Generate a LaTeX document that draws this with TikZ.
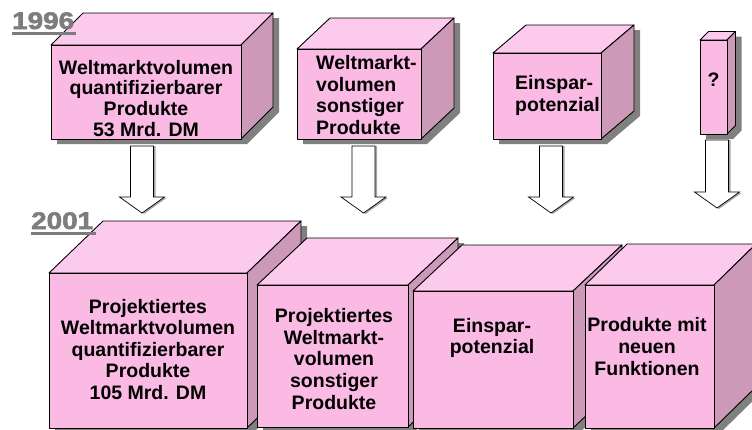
\documentclass[tikz,border=0pt]{standalone}
\usepackage{fontspec}
\setmainfont{Liberation Sans}
\newfontfamily\yearfont[FakeBold=2.2]{Liberation Sans Bold}
\definecolor{cfront}{RGB}{251,186,228}
\definecolor{ctop}{RGB}{252,202,236}
\definecolor{cside}{RGB}{204,153,185}
\definecolor{cshadow}{RGB}{128,128,128}
\definecolor{cyear}{RGB}{125,125,125}
\tikzset{
  cubeedge/.style={draw=black, line width=0.9pt, line join=round},
  frontface/.style={cubeedge, fill=cfront, rectangle, inner sep=0pt, outer sep=0pt, anchor=north west},
  boxtext/.style={font=\bfseries\fontsize{19.5}{21.5}\selectfont, inner sep=0pt, anchor=north, align=center},
  boxtextl/.style={font=\bfseries\fontsize{19.5}{21.8}\selectfont, inner sep=0pt, anchor=north west, align=left},
  yearlabel/.style={font=\yearfont\fontsize{24}{24}\selectfont, text=cyear, inner sep=0pt, anchor=base west},
  yearline/.style={draw=cyear, line width=2.4pt},
  arrowbody/.style={fill=white, draw=black, line width=0.7pt, line join=miter},
  arrowshadow/.style={fill=cshadow!70},
}
% name, x, y, w, h, dx, dy   (pixel coordinates, y downwards, front top-left corner)
\newcommand\pinkcube[7]{%
  \fill[cshadow] ({#2+6},{#3+#5+5}) -- ({#2+6},{#3+5}) -- ({#2+#6+6},{#3-#7+5}) --
     ({#2+#4+#6+6},{#3-#7+5}) -- ({#2+#4+#6+6},{#3+#5-#7+5}) -- ({#2+#4+6},{#3+#5+5}) -- cycle;
  \path[cubeedge, fill=ctop] (#2,#3) -- ({#2+#6},{#3-#7}) -- ({#2+#4+#6},{#3-#7}) -- ({#2+#4},#3) -- cycle;
  \path[cubeedge, fill=cside] ({#2+#4},#3) -- ({#2+#4+#6},{#3-#7}) -- ({#2+#4+#6},{#3+#5-#7}) -- ({#2+#4},{#3+#5}) -- cycle;
  \node[frontface, minimum width=#4pt, minimum height=#5pt] (#1) at (#2,#3) {};
}
% name, centre x, top y, shaft bottom y, tip y
\newcommand\blockarrowdown[5]{%
  \coordinate (#1) at (#2,#3);
  \fill[arrowshadow] ({#2-11.5+2},{#3}) -- ({#2+11.5+2},{#3}) -- ({#2+11.5+2},{#4+1}) -- ({#2+22.5+2},{#4+1}) --
     ({#2+2},{#5+1}) -- ({#2-22.5+2},{#4+1}) -- ({#2-11.5+2},{#4+1}) -- cycle;
  \path[arrowbody] ({#2-11.5},{#3}) -- ({#2+11.5},{#3}) -- ({#2+11.5},{#4}) -- ({#2+22.5},{#4}) --
     (#2,#5) -- ({#2-22.5},{#4}) -- ({#2-11.5},{#4}) -- cycle;
}
\begin{document}
\begin{tikzpicture}[x=1pt,y=-1pt]
\useasboundingbox (0,0) rectangle (752,429);

% ---- 1996 row
\pinkcube{c1}{51}{45}{190}{94}{32}{32}
\pinkcube{c2}{297}{49}{124}{90}{33}{31}
\pinkcube{c3}{493}{53}{108}{86}{33}{28}
\pinkcube{c4}{700}{40}{27}{94}{8.5}{8.5}

\node[boxtext, font=\bfseries\fontsize{19.5}{20.6}\selectfont] (t1) at (146,60) {Weltmarktvolumen\\quantifizierbarer\\Produkte\\53 Mrd. DM};
\node[boxtextl] (t2) at (316,55) {Weltmarkt-\\volumen\\sonstiger\\Produkte};
\node[boxtextl] (t3) at (515,75) {Einspar-\\potenzial};
\node[boxtext] (t4) at (713.5,73) {?};

% ---- arrows
\blockarrowdown{a1}{142}{146}{197}{213}
\blockarrowdown{a2}{363.5}{146}{197}{213}
\blockarrowdown{a3}{551}{146}{197}{213}
\blockarrowdown{a4}{717}{140}{192}{208}

% ---- 2001 row
\pinkcube{b1}{49}{273}{198}{155}{54}{52}
\pinkcube{b2}{257}{285}{151}{142}{50}{47}
\pinkcube{b3}{413}{291}{160}{137}{49}{46}
\pinkcube{b4}{585}{285}{129}{143}{42}{41}

\node[boxtext] (s1) at (148,299) {Projektiertes\\Weltmarktvolumen\\quantifizierbarer\\Produkte\\105 Mrd. DM};
\node[boxtext, font=\bfseries\fontsize{19.5}{21.8}\selectfont] (s2) at (334,308) {Projektiertes\\Weltmarkt-\\volumen\\sonstiger\\Produkte};
\node[boxtext] (s3) at (492,318) {Einspar-\\potenzial};
\node[boxtext, font=\bfseries\fontsize{19.5}{22}\selectfont] (s4) at (647,317) {Produkte mit\\neuen\\Funktionen};

% ---- year labels
\node[yearlabel] (y1) at (12,29) {\scalebox{1.16}[1]{1996}};
\coordinate (u1a) at (12,33.5);
\coordinate (u1b) at (76,33.5);
\draw[yearline] (u1a) -- (u1b);
\node[yearlabel] (y2) at (31,229) {\scalebox{1.16}[1]{2001}};
\coordinate (u2a) at (31,233.5);
\coordinate (u2b) at (96,233.5);
\draw[yearline] (u2a) -- (u2b);
\end{tikzpicture}
\end{document}
